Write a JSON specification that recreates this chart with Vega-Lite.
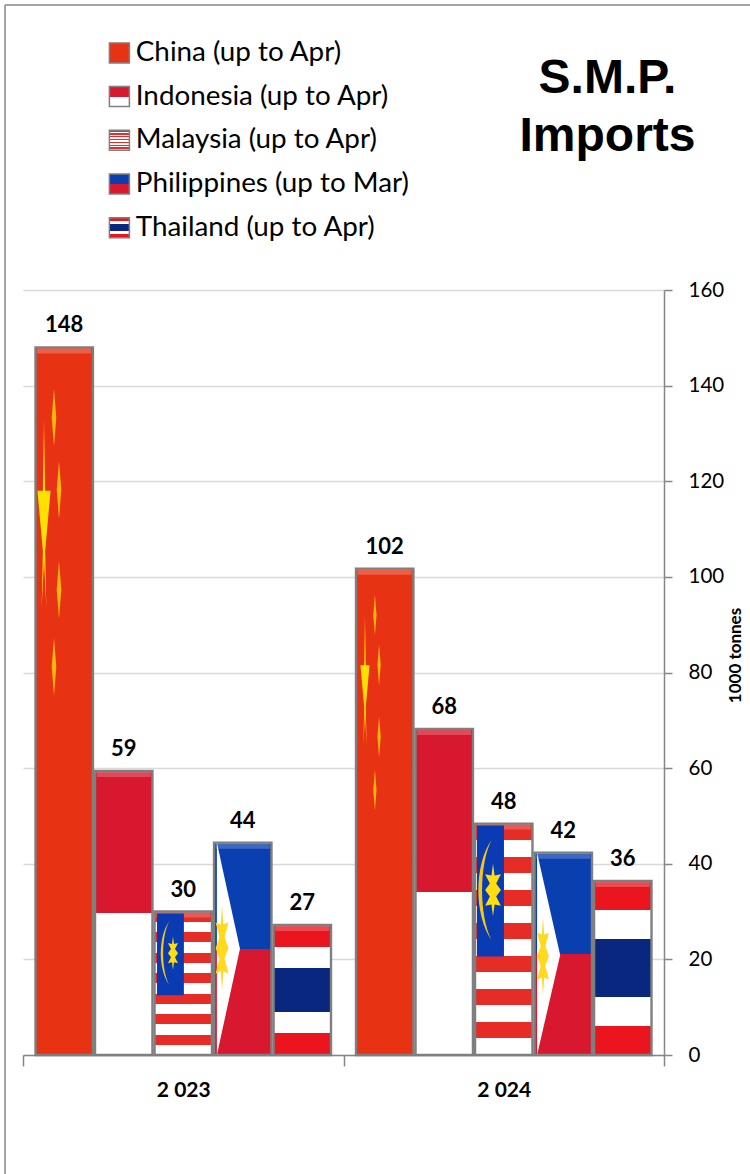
{
"$schema":"https://vega.github.io/schema/vega-lite/v6.json",
"width":641,"height":765,
"autosize":{"type":"none"},
"padding":{"left":23,"top":290,"right":86,"bottom":119},
"background":"white",
"config":{"font":"Lato","view":{"stroke":null}},
"title":{"text":["S.M.P.","Imports"],"font":"Liberation Sans","fontSize":48,"fontWeight":"bold","lineHeight":58,"color":"black","anchor":"middle","frame":"group","align":"center","dx":264,"dy":157,"offset":0},
"params":[{"name":"flagFills","expr":"{'China (up to Apr)':'#e83214','Indonesia (up to Apr)':{gradient:'linear',x1:0,y1:0,x2:0,y2:1,stops:[{offset:0,color:'#d7182e'},{offset:0.5,color:'#d7182e'},{offset:0.5,color:'#ffffff'},{offset:1,color:'#ffffff'}]},'Malaysia (up to Apr)':{gradient:'linear',x1:0,y1:0,x2:0,y2:1,stops:[{offset:0,color:'#e62c26'},{offset:0.0714,color:'#e62c26'},{offset:0.0714,color:'#ffffff'},{offset:0.1429,color:'#ffffff'},{offset:0.1429,color:'#e62c26'},{offset:0.2143,color:'#e62c26'},{offset:0.2143,color:'#ffffff'},{offset:0.2857,color:'#ffffff'},{offset:0.2857,color:'#e62c26'},{offset:0.3571,color:'#e62c26'},{offset:0.3571,color:'#ffffff'},{offset:0.4286,color:'#ffffff'},{offset:0.4286,color:'#e62c26'},{offset:0.5,color:'#e62c26'},{offset:0.5,color:'#ffffff'},{offset:0.5714,color:'#ffffff'},{offset:0.5714,color:'#e62c26'},{offset:0.6429,color:'#e62c26'},{offset:0.6429,color:'#ffffff'},{offset:0.7143,color:'#ffffff'},{offset:0.7143,color:'#e62c26'},{offset:0.7857,color:'#e62c26'},{offset:0.7857,color:'#ffffff'},{offset:0.8571,color:'#ffffff'},{offset:0.8571,color:'#e62c26'},{offset:0.9286,color:'#e62c26'},{offset:0.9286,color:'#ffffff'},{offset:1,color:'#ffffff'}]},'Philippines (up to Mar)':{gradient:'linear',x1:0,y1:0,x2:0,y2:1,stops:[{offset:0,color:'#0a3fb0'},{offset:0.5,color:'#0a3fb0'},{offset:0.5,color:'#d7182e'},{offset:1,color:'#d7182e'}]},'Thailand (up to Apr)':{gradient:'linear',x1:0,y1:0,x2:0,y2:1,stops:[{offset:0,color:'#ea151f'},{offset:0.1667,color:'#ea151f'},{offset:0.1667,color:'#ffffff'},{offset:0.3333,color:'#ffffff'},{offset:0.3333,color:'#0a2780'},{offset:0.6667,color:'#0a2780'},{offset:0.6667,color:'#ffffff'},{offset:0.8333,color:'#ffffff'},{offset:0.8333,color:'#ea151f'},{offset:1,color:'#ea151f'}]}}"}],
"datasets":{
"imports":[
{"year":"2 023","country":"China (up to Apr)","value":148},
{"year":"2 023","country":"Indonesia (up to Apr)","value":59.4},
{"year":"2 023","country":"Malaysia (up to Apr)","value":30},
{"year":"2 023","country":"Philippines (up to Mar)","value":44.4},
{"year":"2 023","country":"Thailand (up to Apr)","value":27.2},
{"year":"2 024","country":"China (up to Apr)","value":101.7},
{"year":"2 024","country":"Indonesia (up to Apr)","value":68.2},
{"year":"2 024","country":"Malaysia (up to Apr)","value":48.4},
{"year":"2 024","country":"Philippines (up to Mar)","value":42.3},
{"year":"2 024","country":"Thailand (up to Apr)","value":36.4}
],
"canton":[
{"year":"2 023","from":0.418,"to":0.502,"top":29.6,"bottom":12.5},
{"year":"2 024","from":1.4165,"to":1.5007,"top":48,"bottom":20.6}
],
"triangle":[
{"year":"2 023","pos":0.605,"top":44.4,"bottom":0},
{"year":"2 023","pos":0.677,"top":22.2,"bottom":22.2},
{"year":"2 024","pos":1.604,"top":42.3,"bottom":0},
{"year":"2 024","pos":1.676,"top":20.9,"bottom":20.9}
],
"frame":[{"left":-0.056,"right":2.27,"top":219.6,"bottom":-24.9}],
"emblems":[
{"part":"big star","pos":0.0655,"val":113.2,"span":39.3},
{"part":"big star","pos":1.067,"val":78.2,"span":27.2},
{"part":"small star","pos":0.0967,"val":133.3,"span":12},
{"part":"small star","pos":0.1123,"val":118.2,"span":12},
{"part":"small star","pos":0.1123,"val":97.3,"span":12},
{"part":"small star","pos":0.0967,"val":81.2,"span":12},
{"part":"small star","pos":1.098,"val":92,"span":8.5},
{"part":"small star","pos":1.111,"val":81.6,"span":8.5},
{"part":"small star","pos":1.111,"val":66.5,"span":8.5},
{"part":"small star","pos":1.098,"val":55.4,"span":8.5},
{"part":"crescent","pos":0.443,"val":21.3,"span":13.2},
{"part":"crescent","pos":1.4415,"val":34.5,"span":20.9},
{"part":"malay sun","pos":0.468,"val":21.3,"span":7},
{"part":"malay sun","pos":1.4665,"val":34.5,"span":11},
{"part":"phil sun","pos":0.621,"val":22.4,"span":17.8},
{"part":"phil sun","pos":1.6225,"val":20.7,"span":16.3}
]
},
"resolve":{"scale":{"x":"independent","color":"independent"}},
"layer":[
{"data":{"name":"imports"},
"encoding":{
"x":{"field":"year","type":"nominal","scale":{"padding":0},"axis":{"title":null,"labelAngle":0,"labelFontSize":21,"labelFontWeight":"bold","labelColor":"black","labelPadding":13,"tickBand":"extent","tickSize":11,"tickColor":"#868686","domainColor":"#868686","tickWidth":1.5,"domainWidth":1.5,"grid":false}},
"xOffset":{"field":"country","type":"nominal","sort":null,"scale":{"paddingInner":0.035,"paddingOuter":0.21}},
"y":{"field":"value","type":"quantitative","scale":{"domain":[0,160],"nice":false},"axis":{"orient":"right","values":[0,20,40,60,80,100,120,140,160],"title":"1000 tonnes","titleFontSize":17,"titleFontWeight":"bold","titleColor":"black","titleAngle":270,"titleX":80,"titleY":365,"labelFontSize":20.5,"labelColor":"black","labelPadding":16,"tickSize":8,"tickColor":"#868686","domainColor":"#868686","tickWidth":1.5,"domainWidth":1.5,"grid":true,"gridColor":"#d9d9d9","gridWidth":1.5}}
},
"layer":[
{"mark":{"type":"bar","stroke":"#7f7f7f","strokeWidth":2.4,"fill":{"expr":"flagFills[datum.country]"}},
"encoding":{"opacity":{"field":"country","type":"nominal","sort":null,
"scale":{"domain":["China (up to Apr)","Indonesia (up to Apr)","Malaysia (up to Apr)","Philippines (up to Mar)","Thailand (up to Apr)"],
"range":[1,1,1,1,1]},
"legend":{"orient":"none","legendX":82.5,"legendY":-251,"title":null,"symbolType":"square","symbolSize":400,"symbolStrokeColor":"#7f7f7f","symbolStrokeWidth":1.5,"labelFontSize":27.8,"labelColor":"black","labelOffset":2.5,"rowPadding":14.7,"symbolLimit":0,"labelLimit":400,
"encoding":{"symbols":{"fill":{"value":{"expr":"flagFills[datum.value]"}},"stroke":{"value":"#7f7f7f"},"strokeWidth":{"value":1.5}}}}}}},
{"mark":{"type":"tick","orient":"horizontal","size":54,"thickness":5,"yOffset":3.5,"color":"white","opacity":0.22}},
{"mark":{"type":"text","baseline":"alphabetic","dy":-15,"fontSize":22,"fontWeight":"bold","color":"black"},
"encoding":{"text":{"field":"value","type":"quantitative","format":".0f"}}}
]},
{"layer":[
{"data":{"name":"canton"},"mark":{"type":"rect","color":"#0a3bb3"},
"encoding":{"x":{"field":"from","type":"quantitative","scale":{"domain":[0,2],"nice":false},"axis":null},"x2":{"field":"to"},"y":{"field":"top","type":"quantitative"},"y2":{"field":"bottom"}}},
{"data":{"name":"triangle"},"mark":{"type":"area","color":"white"},
"encoding":{"x":{"field":"pos","type":"quantitative","axis":null},"y":{"field":"top","type":"quantitative","stack":null},"y2":{"field":"bottom"},"detail":{"field":"year"}}},
{"data":{"name":"emblems"},"mark":{"type":"point","filled":true,"opacity":1},
"encoding":{"x":{"field":"pos","type":"quantitative","axis":null},"y":{"field":"val","type":"quantitative"},
"shape":{"field":"part","type":"nominal","legend":null,"scale":{"domain":["big star","small star","crescent","malay sun","phil sun"],"range":[
"M0,-1L0.012,-0.245L0.07,-0.245L0.012,0.4L0.025,1L0,0.5L-0.025,1L-0.012,0.4L-0.07,-0.245L-0.012,-0.245Z",
"M0,-1L0.08,0L0,1L-0.08,0Z",
"M0.13,-1C-0.22,-0.5 -0.22,0.5 0.13,1C-0.12,0.5 -0.12,-0.5 0.13,-1Z",
"M0,-1L0.06,-0.55L0.3,-0.6L0.12,-0.25L0.3,0L0.12,0.25L0.3,0.6L0.06,0.55L0,1L-0.06,0.55L-0.3,0.6L-0.12,0.25L-0.3,0L-0.12,-0.25L-0.3,-0.6L-0.06,-0.55Z",
"M0,-1L0.03,-0.55L0.15,-0.6L0.06,-0.25L0.15,0L0.06,0.25L0.15,0.6L0.03,0.55L0,1L-0.03,0.55L-0.15,0.6L-0.06,0.25L-0.15,0L-0.06,-0.25L-0.15,-0.6L-0.03,-0.55Z"
]}},
"size":{"field":"span","type":"quantitative","legend":null,"scale":{"type":"pow","exponent":2,"domain":[0,50],"range":[0,57121]}},
"color":{"field":"part","type":"nominal","legend":null,"scale":{"domain":["big star","small star","crescent","malay sun","phil sun"],"range":["#ffe000","#ffb80a","#f5c518","#ffdd10","#ffd91c"]}}}},
{"data":{"name":"frame"},"mark":{"type":"rule","color":"#868686","strokeWidth":1.5,"clip":false},
"encoding":{"x":{"field":"left","type":"quantitative"},"y":{"field":"top","type":"quantitative"},"y2":{"field":"bottom"}}},
{"data":{"name":"frame"},"mark":{"type":"rule","color":"#868686","strokeWidth":1.5,"clip":false},
"encoding":{"y":{"field":"top","type":"quantitative"},"x":{"field":"left","type":"quantitative"},"x2":{"field":"right"}}}
]}
]
}
